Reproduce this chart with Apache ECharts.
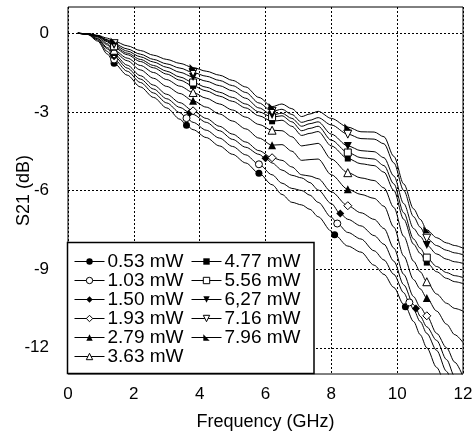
<!DOCTYPE html>
<html>
<head>
<meta charset="utf-8">
<script src="https://cdn.jsdelivr.net/npm/echarts@6/dist/echarts.min.js"></script>
<style>
    html, body { margin: 0; padding: 0; background: #fff; }
    #chart { width: 473px; height: 433px; }
</style>
</head>
<body>
<div id="chart"></div>
<script>
// frequency grid (GHz)
var freq = [0.3, 0.6, 0.9, 1.2, 1.4, 1.8, 2.2, 2.6, 3.0, 3.4, 3.8, 4.2, 4.6, 5.0, 5.4, 5.8, 6.2, 6.5, 6.8, 7.1, 7.35, 7.6, 8.0, 8.5, 8.9, 9.3, 9.6, 9.9, 10.2, 10.5, 10.7, 10.9, 11.2, 11.5, 11.75, 12.0];

var names = ['0.53 mW', '1.03 mW', '1.50 mW', '1.93 mW', '2.79 mW', '3.63 mW', '4.77 mW', '5.56 mW', '6,27 mW', '7.16 mW', '7.96 mW'];

// S21 (dB) for each power, on the freq grid
var s053 = [0, -0.05, -0.3, -0.8, -1.15, -1.6, -2.05, -2.45, -2.85, -3.28, -3.68, -3.98, -4.3, -4.62, -4.95, -5.34, -5.78, -6.15, -6.45, -6.55, -6.72, -7.0, -7.55, -8.12, -8.35, -8.85, -9.2, -9.7, -10.35, -11.0, -11.5, -12.0, -12.75, -13.5, -14.0, -14.4];
var s103 = [0, -0.04, -0.26, -0.7, -1.0, -1.45, -1.88, -2.28, -2.66, -3.03, -3.4, -3.7, -4.0, -4.32, -4.64, -5.0, -5.4, -5.72, -5.92, -6.0, -6.18, -6.45, -7.02, -7.6, -7.85, -8.3, -8.65, -9.2, -9.9, -10.55, -11.0, -11.45, -12.1, -12.9, -13.6, -14.0];
var s150 = [0, -0.04, -0.22, -0.6, -0.88, -1.33, -1.75, -2.13, -2.5, -2.83, -3.1, -3.4, -3.72, -4.05, -4.35, -4.62, -4.95, -5.22, -5.42, -5.52, -5.7, -5.98, -6.5, -7.1, -7.35, -7.72, -8.05, -8.7, -9.6, -10.35, -10.8, -11.2, -11.72, -12.45, -13.1, -13.6];
var s193 = [0, -0.03, -0.2, -0.55, -0.8, -1.22, -1.62, -1.98, -2.33, -2.65, -2.96, -3.25, -3.55, -3.85, -4.15, -4.48, -4.75, -4.85, -5.1, -5.4, -5.45, -5.55, -6.05, -6.58, -6.85, -7.1, -7.45, -8.2, -9.2, -10.05, -10.45, -10.78, -11.45, -12.0, -12.55, -13.1];
var s279 = [0, -0.03, -0.15, -0.45, -0.72, -1.05, -1.4, -1.72, -2.03, -2.3, -2.58, -2.82, -3.08, -3.35, -3.65, -4.0, -4.27, -4.25, -4.5, -4.85, -4.82, -4.8, -5.4, -5.95, -6.15, -6.3, -6.6, -7.4, -8.5, -9.4, -9.75, -10.1, -10.6, -11.1, -11.5, -11.8];
var s363 = [0, -0.03, -0.13, -0.4, -0.65, -0.95, -1.23, -1.5, -1.77, -2.02, -2.26, -2.48, -2.7, -2.93, -3.2, -3.48, -3.7, -3.72, -3.95, -4.3, -4.25, -4.2, -4.8, -5.32, -5.52, -5.62, -5.9, -6.65, -7.75, -8.7, -9.1, -9.48, -9.95, -10.3, -10.5, -10.6];
var s477 = [0, -0.02, -0.11, -0.33, -0.55, -0.82, -1.08, -1.32, -1.56, -1.79, -2.01, -2.2, -2.4, -2.6, -2.85, -3.15, -3.36, -3.32, -3.55, -3.9, -3.82, -3.75, -4.3, -4.78, -4.98, -5.05, -5.3, -6.0, -7.1, -8.05, -8.4, -8.75, -9.1, -9.35, -9.48, -9.55];
var s556 = [0, -0.02, -0.1, -0.3, -0.5, -0.76, -1.0, -1.23, -1.45, -1.67, -1.88, -2.06, -2.25, -2.45, -2.7, -3.0, -3.2, -3.15, -3.38, -3.72, -3.63, -3.55, -4.08, -4.55, -4.75, -4.8, -5.05, -5.75, -6.85, -7.85, -8.2, -8.56, -8.9, -9.13, -9.25, -9.32];
var s627 = [0, -0.02, -0.09, -0.27, -0.45, -0.68, -0.9, -1.1, -1.3, -1.49, -1.67, -1.83, -2.0, -2.2, -2.48, -2.85, -3.12, -3.05, -3.25, -3.55, -3.45, -3.38, -3.85, -4.3, -4.48, -4.52, -4.75, -5.45, -6.5, -7.45, -7.75, -8.08, -8.42, -8.62, -8.72, -8.78];
var s716 = [0, -0.02, -0.09, -0.25, -0.4, -0.6, -0.8, -1.0, -1.17, -1.33, -1.5, -1.64, -1.8, -2.0, -2.26, -2.66, -2.98, -2.9, -3.1, -3.4, -3.32, -3.22, -3.5, -3.85, -4.02, -4.04, -4.22, -4.95, -6.0, -7.0, -7.4, -7.82, -8.1, -8.28, -8.38, -8.45];
var s796 = [0, -0.02, -0.08, -0.19, -0.3, -0.48, -0.66, -0.84, -1.0, -1.15, -1.31, -1.45, -1.6, -1.8, -2.05, -2.45, -2.8, -2.7, -2.88, -3.18, -3.08, -2.98, -3.25, -3.58, -3.76, -3.77, -3.95, -4.7, -5.75, -6.7, -7.1, -7.5, -7.8, -8.0, -8.1, -8.2];

// marker points [GHz, dB]
var m053 = [[1.4, -1.15], [3.6, -3.51], [5.8, -5.34], [8.1, -7.69], [10.25, -10.43]];
var m103 = [[1.4, -1.0], [3.6, -3.24], [5.8, -5.0], [8.18, -7.26], [10.37, -10.27]];
var m150 = [[1.4, -0.88], [3.7, -3.03], [6.0, -4.77], [8.27, -6.88], [10.57, -10.5]];
var m193 = [[1.4, -0.8], [3.8, -2.96], [6.2, -4.75], [8.5, -6.58], [10.9, -10.78]];
var m279 = [[1.4, -0.72], [3.8, -2.58], [6.2, -4.27], [8.5, -5.95], [10.9, -10.1]];
var m363 = [[1.4, -0.65], [3.8, -2.26], [6.2, -3.7], [8.5, -5.32], [10.9, -9.48]];
var m477 = [[1.4, -0.55], [3.8, -2.01], [6.2, -3.36], [8.5, -4.78], [10.9, -8.75]];
var m556 = [[1.4, -0.5], [3.8, -1.88], [6.2, -3.2], [8.5, -4.55], [10.9, -8.56]];
var m627 = [[1.4, -0.45], [3.8, -1.67], [6.2, -3.12], [8.5, -4.3], [10.9, -8.08]];
var m716 = [[1.4, -0.4], [3.8, -1.5], [6.2, -2.98], [8.5, -3.85], [10.9, -7.82]];
var m796 = [[1.4, -0.3], [3.8, -1.31], [6.2, -2.8], [8.5, -3.58], [10.9, -7.5]];

var yTicks = [-12, -9, -6, -3, 0];

var curves = [s053, s103, s150, s193, s279, s363, s477, s556, s627, s716, s796];
var marks = [m053, m103, m150, m193, m279, m363, m477, m556, m627, m716, m796];

var symbols = ['circle', 'circle', 'diamond', 'diamond', 'triangle', 'triangle', 'rect', 'rect', 'triangle', 'triangle', 'path://M0,0 L0,10 L10,10 Z'];
var symbolSizes = [7, 7, 8, 8, 8, 8, 6, 7, 8, 8, 7];
var symbolRotates = [0, 0, 0, 0, 0, 0, 0, 0, 180, 180, 0];
var hollow = [false, true, false, true, false, true, false, true, false, true, false];

var font = 'Liberation Sans, Arial, sans-serif';

function buildData(ys, mk) {
    var pts = [];
    for (var i = 0; i < freq.length; i++) {
        var onMark = mk.some(function (m) { return Math.abs(m[0] - freq[i]) < 0.001; });
        if (!onMark) {
            pts.push({value: [freq[i], ys[i]], symbol: 'none'});
        }
    }
    mk.forEach(function (m) {
        pts.push({value: [m[0], m[1]]});
    });
    pts.sort(function (a, b) { return a.value[0] - b.value[0]; });
    return pts;
}

var series = [];
for (var k = 0; k < names.length; k++) {
    series.push({
        name: names[k],
        type: 'line',
        smooth: 0.3,
        smoothMonotone: 'x',
        symbol: symbols[k],
        symbolSize: symbolSizes[k],
        symbolRotate: symbolRotates[k],
        showAllSymbol: true,
        lineStyle: {color: '#000', width: 1},
        itemStyle: hollow[k] ? {color: '#fff', borderColor: '#000', borderWidth: 1} : {color: '#000', borderWidth: 0},
        emphasis: {disabled: true},
        data: buildData(curves[k], marks[k])
    });
}

var legendCommon = {
    orient: 'vertical',
    top: 252,
    padding: 0,
    itemWidth: 30,
    itemHeight: 8,
    itemGap: 0,
    selectedMode: false,
    z: 110,
    lineStyle: {width: 1, color: '#000'},
    itemStyle: {borderWidth: 1},
    textStyle: {fontFamily: font, fontSize: 19, lineHeight: 18.8, color: '#000', padding: [0, 0, 0, -2]}
};

var chart = echarts.init(document.getElementById('chart'));
var option = {
    animation: false,
    backgroundColor: '#fff',
    textStyle: {fontFamily: font},
    grid: {
        left: 68,
        right: 10,
        top: 7,
        bottom: 59,
        containLabel: false,
        outerBoundsMode: 'none',
        show: true,
        borderColor: '#000',
        borderWidth: 1
    },
    xAxis: {
        type: 'value',
        min: 0,
        max: 12,
        interval: 2,
        name: 'Frequency (GHz)',
        nameLocation: 'middle',
        nameGap: 39,
        nameMoveOverlap: false,
        nameTextStyle: {fontFamily: font, fontSize: 18, color: '#000'},
        axisLine: {show: false},
        axisTick: {show: false},
        axisLabel: {fontFamily: font, fontSize: 17, color: '#000', margin: 12},
        splitLine: {show: true, lineStyle: {color: '#000', width: 1, type: [2, 2]}}
    },
    yAxis: {
        type: 'value',
        min: -13,
        max: 1,
        name: 'S21 (dB)',
        nameLocation: 'middle',
        nameGap: 35,
        nameMoveOverlap: false,
        nameTextStyle: {fontFamily: font, fontSize: 18, color: '#000'},
        axisLine: {show: false},
        axisTick: {show: false, customValues: yTicks},
        axisLabel: {fontFamily: font, fontSize: 17, color: '#000', margin: 19, customValues: yTicks},
        splitLine: {show: true, lineStyle: {color: '#000', width: 1, type: [2, 2]}}
    },
    legend: [
        Object.assign({}, legendCommon, {left: 74, data: names.slice(0, 6)}),
        Object.assign({}, legendCommon, {left: 191, data: names.slice(6)})
    ],
    graphic: [{
        type: 'rect',
        z: 100,
        shape: {x: 67.5, y: 242.5, width: 246.5, height: 131},
        style: {fill: '#fff', stroke: '#000', lineWidth: 1.5}
    }],
    series: series
};
chart.setOption(option);
</script>
</body>
</html>
